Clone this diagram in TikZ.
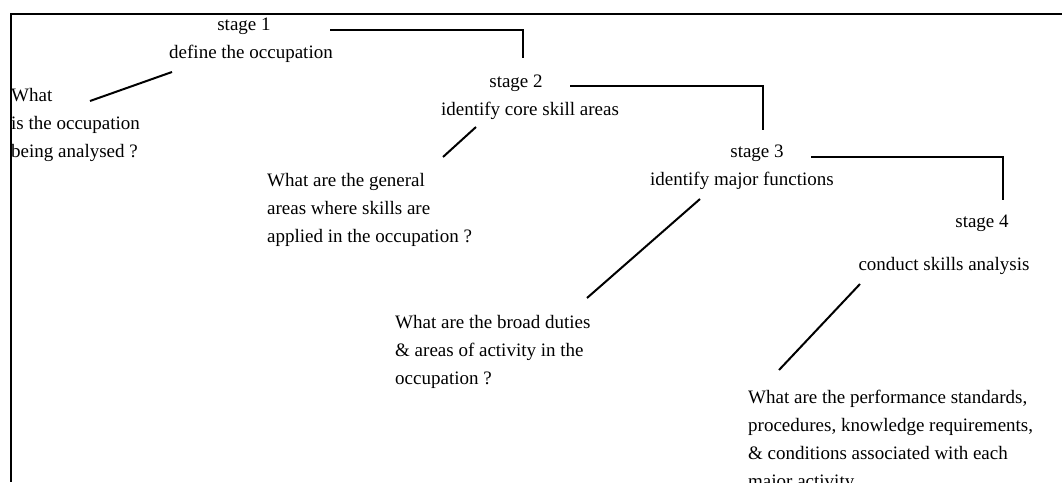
\documentclass[tikz,border=0pt]{standalone}
\usepackage{fontspec}
\setmainfont{Liberation Serif}
\newcommand\qlines[1]{\vtop{\baselineskip=28pt\halign{##\hfil\cr#1\crcr}}}
\begin{document}
\begin{tikzpicture}[x=1pt,y=-1pt,
  every node/.style={inner sep=0pt,font=\fontsize{19}{28}\selectfont},
  lbl/.style={anchor=base},
  qtxt/.style={anchor=base west},
  link/.style={line width=2pt},
  frameline/.style={line width=2pt}]
\clip (0,0) rectangle (1062,482);
\draw[frameline] (1062,14) -- (10.5,14) -- (10.5,482);
% stage labels
\node[lbl] (s1) at (244,30) {stage 1};
\node[lbl] (d1) at (251,58) {define the occupation};
\node[lbl] (s2) at (516,87) {stage 2};
\node[lbl] (d2) at (530,115) {identify core skill areas};
\node[lbl] (s3) at (757,157) {stage 3};
\node[lbl] (d3) at (742,185) {identify major functions};
\node[lbl] (s4) at (982,227) {stage 4};
\node[lbl] (d4) at (944,270) {conduct skills analysis};
% questions
\node[qtxt] (q1) at (11,101) {\qlines{What\cr is the occupation\cr being analysed ?}};
\node[qtxt] (q2) at (267,186) {\qlines{What are the general\cr areas where skills are\cr applied in the occupation ?}};
\node[qtxt] (q3) at (395,328) {\qlines{What are the broad duties\cr \& areas of activity in the\cr occupation ?}};
\node[qtxt] (q4) at (748,403) {\qlines{What are the performance standards,\cr procedures, knowledge requirements,\cr \& conditions associated with each\cr major activity}};
% connector end points
\coordinate (a1) at (330,30); \coordinate (b1) at (523,58);
\coordinate (a2) at (570,86); \coordinate (b2) at (763,130);
\coordinate (a3) at (811,157); \coordinate (b3) at (1003,200);
\coordinate (q1e) at (90,101); \coordinate (d1e) at (172,72);
\coordinate (q2e) at (443,157); \coordinate (d2e) at (476,127);
\coordinate (q3e) at (587,298); \coordinate (d3e) at (700,199);
\coordinate (q4e) at (779,370); \coordinate (d4e) at (860,284);
% stage-to-stage connectors
\draw[link] (a1) -| (b1);
\draw[link] (a2) -| (b2);
\draw[link] (a3) -| (b3);
% question connectors
\draw[link] (q1e) -- (d1e);
\draw[link] (q2e) -- (d2e);
\draw[link] (q3e) -- (d3e);
\draw[link] (q4e) -- (d4e);
\end{tikzpicture}
\end{document}
